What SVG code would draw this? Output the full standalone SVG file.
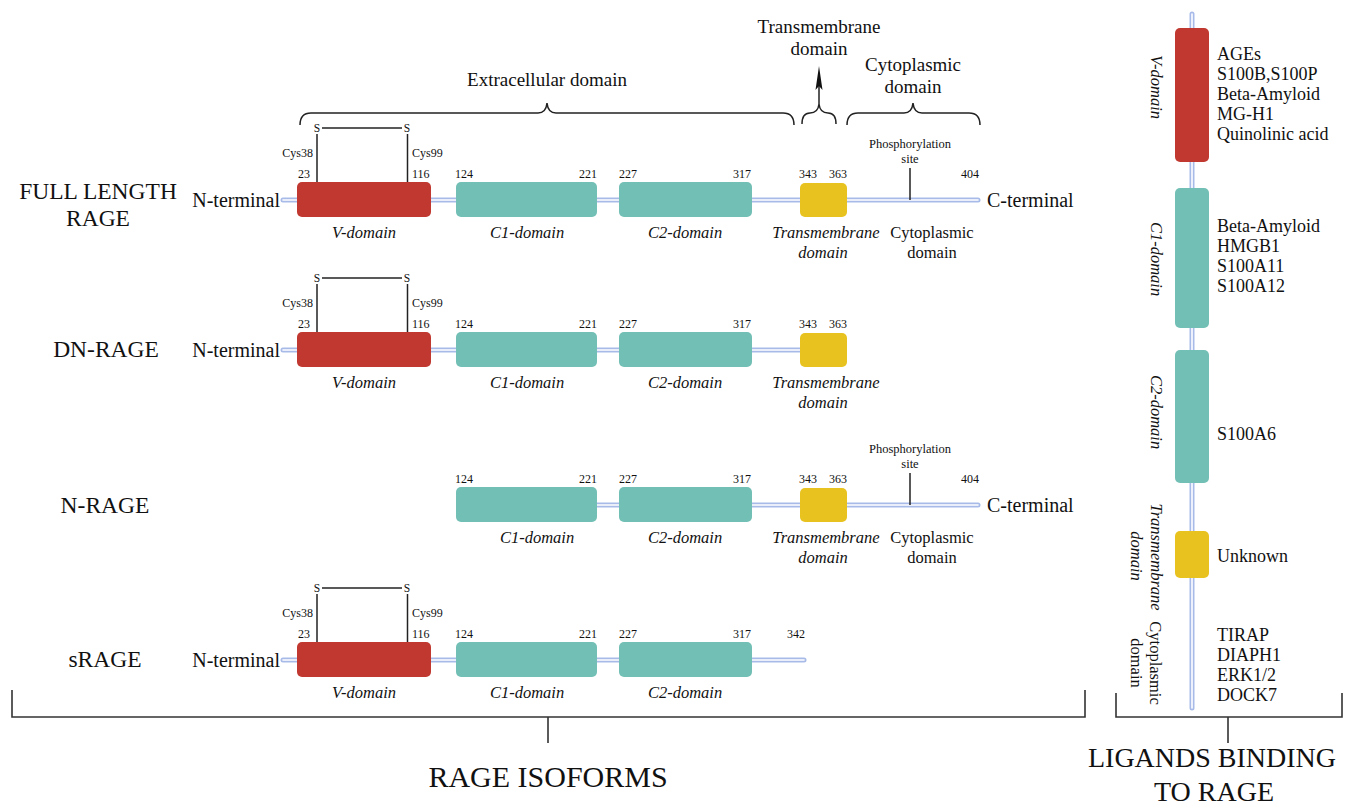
<svg xmlns="http://www.w3.org/2000/svg" width="1353" height="809" viewBox="0 0 1353 809">
<style>
text{font-family:"Liberation Serif","DejaVu Serif",serif;fill:#111}
.hdr{font-size:19px;text-anchor:middle}
.row{font-size:23.5px;text-anchor:middle}
.term{font-size:20px}
.num{font-size:12px}
.cys{font-size:12px}
.ss{font-size:11.5px;text-anchor:middle}
.dl{font-size:16.5px;font-style:italic;text-anchor:middle}
.cl{font-size:16.5px;text-anchor:middle}
.ph{font-size:12.5px;text-anchor:middle}
.lig{font-size:18px}
.big{font-size:30px;text-anchor:middle}
.v{fill:#c0382f}
.c{fill:#72bfb6}
.t{fill:#e8c21e}
.bb{stroke:#a8bbe8;stroke-width:5;stroke-linecap:round;fill:none}
.bbi{stroke:#fff;stroke-width:1.6;stroke-linecap:round;fill:none}
.ln{stroke:#222;stroke-width:1.5;fill:none}
.br{stroke:#333;stroke-width:1.6;fill:none}
</style>
<defs>
<g id="ssbond">
<line class="ln" x1="317" y1="134" x2="317" y2="183"/>
<line class="ln" x1="407.5" y1="134" x2="407.5" y2="183"/>
<line class="ln" x1="322" y1="128" x2="402" y2="128"/>
<text class="ss" x="317" y="132">S</text>
<text class="ss" x="407" y="132">S</text>
<text class="cys" x="313" y="157" text-anchor="end">Cys38</text>
<text class="cys" x="412" y="157">Cys99</text>
<text class="num" x="298" y="178">23</text>
<text class="num" x="412" y="178">116</text>
</g>
</defs>

<!-- connectors: backbones, bonds, braces -->
<g id="connectors">
<line class="bb" x1="283" y1="200" x2="978" y2="200"/><line class="bbi" x1="283" y1="200" x2="978" y2="200"/>
<line class="bb" x1="283" y1="350" x2="840" y2="350"/><line class="bbi" x1="283" y1="350" x2="840" y2="350"/>
<line class="bb" x1="470" y1="505" x2="978" y2="505"/><line class="bbi" x1="470" y1="505" x2="978" y2="505"/>
<line class="bb" x1="283" y1="660" x2="804" y2="660"/><line class="bbi" x1="283" y1="660" x2="804" y2="660"/>
<line class="bb" x1="1192" y1="14" x2="1192" y2="708"/><line class="bbi" x1="1192" y1="14" x2="1192" y2="708"/>
<line class="ln" x1="910" y1="168" x2="910" y2="200"/>
<line class="ln" x1="910" y1="473" x2="910" y2="505"/>
<path class="ln" d="M300,125 Q300,113 311,113 L538,113 Q546,113 547,103 Q548,113 556,113 L783,113 Q794,113 794,125"/>
<path class="ln" d="M802,124 Q802,113 810,113 Q818,113 819,104 Q820,113 828,113 Q836,113 836,124"/>
<path class="ln" d="M847,125 Q847,113 858,113 L904,113 Q912,113 913,103 Q914,113 922,113 L969,113 Q980,113 980,125"/>
<line class="ln" x1="819" y1="104" x2="819" y2="84"/>
<path d="M819,66 L822.5,90 L819,86 L815.5,90 Z" fill="#111"/>
<path class="br" d="M12,690 V717 H1085 V690 M548,717 V743"/>
<path class="br" d="M1116,693 V717 H1342 V693 M1228,717 V743"/>
</g>

<!-- headers -->
<g id="headers">
<text class="hdr" x="547" y="86">Extracellular domain</text>
<text class="hdr" x="819" y="33">Transmembrane</text>
<text class="hdr" x="819" y="55">domain</text>
<text class="hdr" x="913" y="71">Cytoplasmic</text>
<text class="hdr" x="913" y="93">domain</text>
</g>

<!-- Full length RAGE -->
<g id="full-length">
<text class="row" x="98" y="199">FULL LENGTH</text>
<text class="row" x="98" y="226">RAGE</text>
<text class="term" x="280" y="207" text-anchor="end">N-terminal</text>
<text class="term" x="987" y="207">C-terminal</text>
<use href="#ssbond"/>
<rect class="v" x="297" y="182" width="134" height="35" rx="5"/>
<rect class="c" x="456" y="182" width="141" height="35" rx="5"/>
<rect class="c" x="619" y="182" width="133" height="35" rx="5"/>
<rect class="t" x="800" y="183" width="47" height="34" rx="5"/>
<text class="num" x="455" y="178">124</text>
<text class="num" x="597" y="178" text-anchor="end">221</text>
<text class="num" x="619" y="178">227</text>
<text class="num" x="751" y="178" text-anchor="end">317</text>
<text class="num" x="799" y="178">343</text>
<text class="num" x="847" y="178" text-anchor="end">363</text>
<text class="num" x="970" y="178" text-anchor="middle">404</text>
<text class="ph" x="910" y="148">Phosphorylation</text>
<text class="ph" x="910" y="163">site</text>
<text class="dl" x="364" y="238">V-domain</text>
<text class="dl" x="527" y="238">C1-domain</text>
<text class="dl" x="685" y="238">C2-domain</text>
<text class="dl" x="826" y="238">Transmembrane</text>
<text class="dl" x="823" y="258">domain</text>
<text class="cl" x="932" y="238">Cytoplasmic</text>
<text class="cl" x="932" y="258">domain</text>
</g>

<!-- DN-RAGE -->
<g id="dn-rage">
<text class="row" x="106" y="357">DN-RAGE</text>
<text class="term" x="280" y="357" text-anchor="end">N-terminal</text>
<use href="#ssbond" transform="translate(0,150)"/>
<rect class="v" x="297" y="332" width="134" height="35" rx="5"/>
<rect class="c" x="456" y="332" width="141" height="35" rx="5"/>
<rect class="c" x="619" y="332" width="133" height="35" rx="5"/>
<rect class="t" x="800" y="333" width="47" height="34" rx="5"/>
<text class="num" x="455" y="328">124</text>
<text class="num" x="597" y="328" text-anchor="end">221</text>
<text class="num" x="619" y="328">227</text>
<text class="num" x="751" y="328" text-anchor="end">317</text>
<text class="num" x="799" y="328">343</text>
<text class="num" x="847" y="328" text-anchor="end">363</text>
<text class="dl" x="364" y="388">V-domain</text>
<text class="dl" x="527" y="388">C1-domain</text>
<text class="dl" x="685" y="388">C2-domain</text>
<text class="dl" x="826" y="388">Transmembrane</text>
<text class="dl" x="823" y="408">domain</text>
</g>

<!-- N-RAGE -->
<g id="n-rage">
<text class="row" x="105" y="513">N-RAGE</text>
<text class="term" x="987" y="512">C-terminal</text>
<rect class="c" x="456" y="487" width="141" height="35" rx="5"/>
<rect class="c" x="619" y="487" width="133" height="35" rx="5"/>
<rect class="t" x="800" y="488" width="47" height="34" rx="5"/>
<text class="num" x="455" y="483">124</text>
<text class="num" x="597" y="483" text-anchor="end">221</text>
<text class="num" x="619" y="483">227</text>
<text class="num" x="751" y="483" text-anchor="end">317</text>
<text class="num" x="799" y="483">343</text>
<text class="num" x="847" y="483" text-anchor="end">363</text>
<text class="num" x="970" y="483" text-anchor="middle">404</text>
<text class="ph" x="910" y="453">Phosphorylation</text>
<text class="ph" x="910" y="468">site</text>
<text class="dl" x="537" y="543">C1-domain</text>
<text class="dl" x="685" y="543">C2-domain</text>
<text class="dl" x="826" y="543">Transmembrane</text>
<text class="dl" x="823" y="563">domain</text>
<text class="cl" x="932" y="543">Cytoplasmic</text>
<text class="cl" x="932" y="563">domain</text>
</g>

<!-- sRAGE -->
<g id="srage">
<text class="row" x="105" y="667">sRAGE</text>
<text class="term" x="280" y="667" text-anchor="end">N-terminal</text>
<use href="#ssbond" transform="translate(0,460)"/>
<rect class="v" x="297" y="642" width="134" height="35" rx="5"/>
<rect class="c" x="456" y="642" width="141" height="35" rx="5"/>
<rect class="c" x="619" y="642" width="133" height="35" rx="5"/>
<text class="num" x="455" y="638">124</text>
<text class="num" x="597" y="638" text-anchor="end">221</text>
<text class="num" x="619" y="638">227</text>
<text class="num" x="751" y="638" text-anchor="end">317</text>
<text class="num" x="796" y="638" text-anchor="middle">342</text>
<text class="dl" x="364" y="698">V-domain</text>
<text class="dl" x="527" y="698">C1-domain</text>
<text class="dl" x="685" y="698">C2-domain</text>
</g>

<!-- Ligands panel -->
<g id="ligands">
<rect class="v" x="1175" y="28" width="34" height="134" rx="5"/>
<rect class="c" x="1175" y="188" width="34" height="140" rx="5"/>
<rect class="c" x="1175" y="350" width="34" height="133" rx="5"/>
<rect class="t" x="1175" y="531" width="34" height="47" rx="5"/>
<text class="dl" transform="translate(1151,87) rotate(90)">V-domain</text>
<text class="dl" transform="translate(1151,259) rotate(90)">C1-domain</text>
<text class="dl" transform="translate(1151,412) rotate(90)">C2-domain</text>
<text class="dl" transform="translate(1151,557) rotate(90)">Transmembrane</text>
<text class="dl" transform="translate(1131,556) rotate(90)">domain</text>
<text class="cl" transform="translate(1150,663) rotate(90)">Cytoplasmic</text>
<text class="cl" transform="translate(1131,663) rotate(90)">domain</text>
<text class="lig" x="1217" y="60">AGEs</text>
<text class="lig" x="1217" y="80">S100B,S100P</text>
<text class="lig" x="1217" y="100">Beta-Amyloid</text>
<text class="lig" x="1217" y="120">MG-H1</text>
<text class="lig" x="1217" y="140">Quinolinic acid</text>
<text class="lig" x="1217" y="232">Beta-Amyloid</text>
<text class="lig" x="1217" y="252">HMGB1</text>
<text class="lig" x="1217" y="272">S100A11</text>
<text class="lig" x="1217" y="292">S100A12</text>
<text class="lig" x="1217" y="440">S100A6</text>
<text class="lig" x="1217" y="562">Unknown</text>
<text class="lig" x="1217" y="641">TIRAP</text>
<text class="lig" x="1217" y="661">DIAPH1</text>
<text class="lig" x="1217" y="681">ERK1/2</text>
<text class="lig" x="1217" y="701">DOCK7</text>
</g>

<!-- titles -->
<g id="titles">
<text class="big" x="548" y="787">RAGE ISOFORMS</text>
<text class="big" x="1212" y="767" style="font-size:28px">LIGANDS BINDING</text>
<text class="big" x="1214" y="801" style="font-size:28px">TO RAGE</text>
</g>
</svg>
